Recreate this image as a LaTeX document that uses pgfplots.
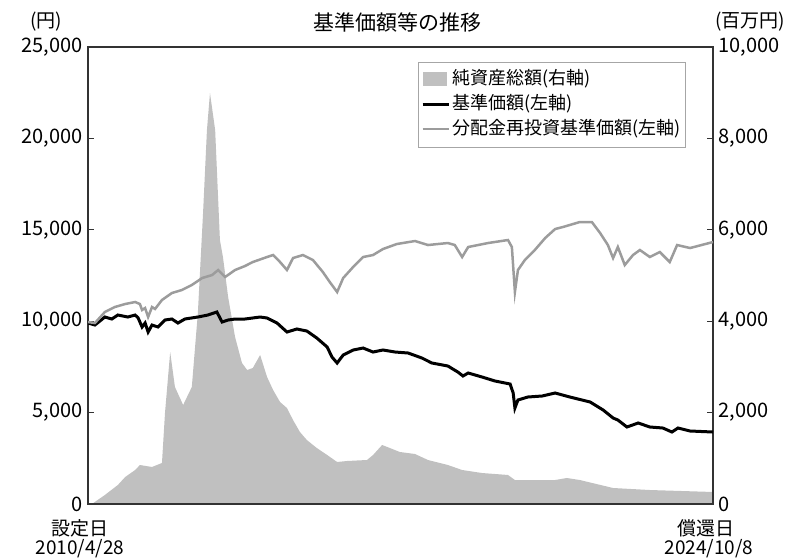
\documentclass[border=0pt]{standalone}
\usepackage{fontspec}
\setmainfont{Noto Sans CJK JP}
\usepackage{pgfplots}
\pgfplotsset{compat=1.18}
\usepackage{pgfplotstable}
\definecolor{areagray}{HTML}{C0C0C0}
\definecolor{linegray}{HTML}{9C9C9C}
\definecolor{framegray}{HTML}{333333}

% 純資産総額 (百万円)
\pgfplotstableread{
year nav
2010.32 0
2010.41 0
2010.71 197
2011.01 416
2011.18 591
2011.41 744
2011.52 853
2011.80 810
2012.03 897
2012.10 1991
2012.22 3326
2012.33 2560
2012.52 2166
2012.72 2560
2012.86 4179
2012.98 6367
2013.07 8183
2013.14 8993
2013.26 8183
2013.37 5776
2013.44 5404
2013.56 4529
2013.72 3654
2013.88 3085
2014.00 2932
2014.13 2976
2014.30 3260
2014.46 2779
2014.60 2494
2014.76 2232
2014.92 2100
2015.06 1838
2015.22 1575
2015.38 1400
2015.61 1225
2015.85 1072
2016.08 919
2016.31 941
2016.77 963
2016.91 1072
2017.12 1291
2017.30 1225
2017.53 1138
2017.88 1094
2018.18 963
2018.64 853
2018.97 744
2019.43 678
2020.03 635
2020.19 525
2021.12 525
2021.39 569
2021.69 525
2022.46 350
2023.31 306
2024.77 263
}\netassets

% 基準価額 (円)
\pgfplotstableread{
year price
2010.32 9901
2010.48 9791
2010.71 10229
2010.87 10120
2011.01 10338
2011.24 10229
2011.41 10338
2011.48 10174
2011.57 9682
2011.64 9901
2011.71 9408
2011.80 9791
2011.94 9682
2012.10 10065
2012.26 10120
2012.40 9901
2012.56 10120
2012.86 10229
2013.09 10338
2013.30 10502
2013.42 9955
2013.56 10065
2013.72 10120
2013.95 10120
2014.30 10229
2014.46 10174
2014.69 9901
2014.92 9408
2015.15 9573
2015.38 9463
2015.61 9080
2015.85 8588
2015.96 8041
2016.08 7713
2016.22 8150
2016.45 8424
2016.68 8533
2016.91 8314
2017.14 8424
2017.42 8314
2017.72 8260
2018.04 7986
2018.27 7713
2018.64 7549
2018.87 7220
2018.99 7002
2019.11 7166
2019.43 6947
2019.73 6728
2020.08 6564
2020.15 6072
2020.19 5251
2020.26 5689
2020.49 5853
2020.82 5908
2021.12 6072
2021.46 5853
2021.93 5579
2022.23 5142
2022.46 4704
2022.57 4595
2022.78 4212
2023.04 4431
2023.31 4212
2023.61 4157
2023.82 3938
2023.96 4157
2024.24 3993
2024.77 3938
}\baseprice

% 分配金再投資基準価額 (円)
\pgfplotstableread{
year price
2010.32 9955
2010.48 9901
2010.71 10502
2010.94 10776
2011.18 10940
2011.41 11049
2011.52 10940
2011.57 10612
2011.64 10721
2011.71 10229
2011.80 10776
2011.87 10667
2012.03 11159
2012.26 11542
2012.49 11706
2012.72 11979
2012.96 12362
2013.19 12526
2013.33 12800
2013.49 12417
2013.72 12800
2013.95 13019
2014.13 13237
2014.46 13511
2014.60 13620
2014.76 13237
2014.92 12800
2015.06 13456
2015.29 13620
2015.52 13347
2015.75 12690
2015.91 12143
2016.08 11596
2016.22 12362
2016.45 12964
2016.68 13511
2016.91 13620
2017.14 13949
2017.46 14222
2017.88 14386
2018.18 14167
2018.64 14277
2018.80 14167
2018.97 13511
2019.11 14058
2019.57 14277
2020.03 14441
2020.12 14058
2020.19 11596
2020.26 12800
2020.42 13347
2020.65 13894
2020.89 14550
2021.12 15043
2021.30 15152
2021.69 15425
2021.97 15425
2022.16 14824
2022.34 14167
2022.46 13456
2022.57 14058
2022.73 13073
2022.92 13620
2023.08 13894
2023.31 13511
2023.54 13784
2023.77 13237
2023.94 14167
2024.24 14003
2024.77 14331
}\reinvested

\begin{document}
\begin{tikzpicture}
\useasboundingbox (0,0) rectangle (790pt,558pt);

% right axis: net assets area
\begin{axis}[
  at={(88pt,54pt)}, anchor=south west,
  scale only axis, width=625pt, height=457pt,
  xmin=2010.32, xmax=2024.77,
  ymin=0, ymax=10000,
  xtick=\empty,
  ytick={0,2000,...,10000},
  scaled y ticks=false,
  ytick pos=right, yticklabel pos=right,
  axis line style={framegray, line width=1.2pt},
  tick style={framegray, line width=1pt},
  major tick length=6pt,
  yticklabel style={font=\fontsize{20}{24}\selectfont, anchor=west, xshift=2pt,
    /pgf/number format/fixed, /pgf/number format/1000 sep={,},
    /pgf/number format/assume math mode=true},
  axis on top,
]
\addplot[fill=areagray, draw=none] table[x=year, y=nav] {\netassets} \closedcycle;
\end{axis}

% left axis: prices
\begin{axis}[
  at={(88pt,54pt)}, anchor=south west,
  scale only axis, width=625pt, height=457pt,
  xmin=2010.32, xmax=2024.77,
  ymin=0, ymax=25000,
  xtick=\empty,
  ytick={0,5000,...,25000},
  scaled y ticks=false,
  ytick pos=left,
  axis line style={framegray, line width=1.2pt},
  tick style={framegray, line width=1pt},
  major tick length=6pt,
  yticklabel style={font=\fontsize{20}{24}\selectfont, anchor=east, xshift=-2pt,
    /pgf/number format/fixed, /pgf/number format/1000 sep={,},
    /pgf/number format/assume math mode=true},
  legend style={at={(0.528,0.968)}, anchor=north west, draw=gray!70,
    font=\fontsize{18}{22}\selectfont, inner xsep=3pt, inner ysep=5pt,
    nodes={inner sep=2pt, text height=16pt, text depth=5pt}},
  legend cell align=left,
]
\addlegendimage{legend image code/.code={\fill[areagray] (0pt,-6pt) rectangle (23pt,7pt);}}
\addlegendentry{純資産総額(右軸)}
\addplot[black, line width=3pt, legend image code/.code={\draw[black, line width=3pt] (0pt,0pt) -- (26pt,0pt);}]
  table[x=year, y=price] {\baseprice};
\addlegendentry{基準価額(左軸)}
\addplot[linegray, line width=2.5pt, legend image code/.code={\draw[linegray, line width=2pt] (0pt,0pt) -- (26pt,0pt);}]
  table[x=year, y=price] {\reinvested};
\addlegendentry{分配金再投資基準価額(左軸)}
\end{axis}

\node[font=\fontsize{21}{24}\selectfont] at (397pt,536pt) {基準価額等の推移};
\node[font=\fontsize{19}{22}\selectfont] at (46pt,536pt) {(円)};
\node[font=\fontsize{19}{22}\selectfont] at (750pt,536pt) {(百万円)};
\node[font=\fontsize{19}{22}\selectfont] at (80pt,30pt) {設定日};
\node[font=\fontsize{19}{22}\selectfont] at (80pt,9pt) {2010/4/28};
\node[font=\fontsize{19}{22}\selectfont] at (706pt,30pt) {償還日};
\node[font=\fontsize{19}{22}\selectfont] at (709pt,9pt) {2024/10/8};
\end{tikzpicture}
\end{document}
